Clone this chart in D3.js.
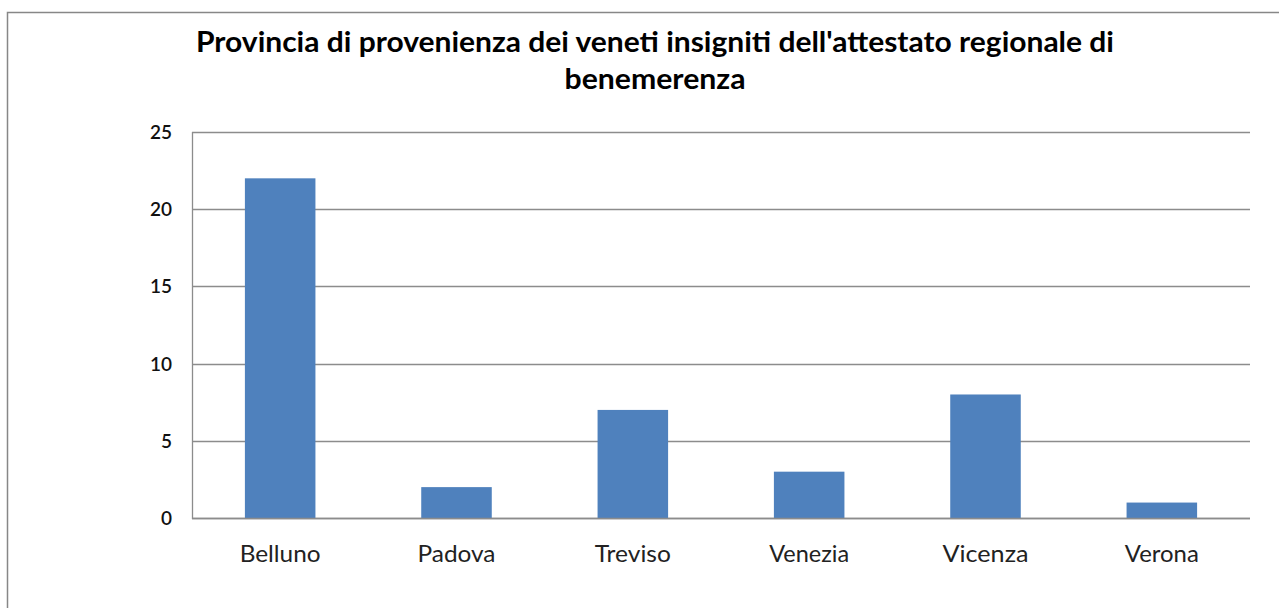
<!DOCTYPE html>
<html><head><meta charset="utf-8">
<script src="https://cdn.jsdelivr.net/npm/d3@7"></script>
<style>body{margin:0;background:#fff;overflow:hidden}</style>
</head><body>
<script>
const categories = ["Belluno","Padova","Treviso","Venezia","Vicenza","Verona"];
const values = [22, 2, 7, 3, 8, 1];
const yTicks = [0,5,10,15,20,25];
const titleLines = ["Provincia di provenienza dei veneti insigniti dell'attestato regionale di","benemerenza"];

(function(){
const W = 1279, H = 608;
const svg = d3.select("body").append("svg").attr("width", W).attr("height", H);
svg.append("rect").attr("width", W).attr("height", H).attr("fill", "#fff");
svg.append("rect").attr("x", 7.5).attr("y", 12.5).attr("width", 1300).attr("height", 620)
  .attr("fill", "none").attr("stroke", "#878787").attr("stroke-width", 1.5);

const pL = 192, pR = 1250, pT = 132, pB = 518;
const x = d3.scaleBand().domain(categories).range([pL, pR]).paddingInner(0.6).paddingOuter(0.3);
const y = d3.scaleLinear().domain([0, 25]).range([pB, pT]);

svg.append("g").selectAll("line").data(yTicks).join("line")
  .attr("x1", pL).attr("x2", pR)
  .attr("y1", d => Math.round(y(d)) + 0.5).attr("y2", d => Math.round(y(d)) + 0.5)
  .attr("stroke", "#8c8c8c").attr("stroke-width", 1.3);

svg.append("g").selectAll("rect").data(values).join("rect")
  .attr("x", (d, i) => x(categories[i]))
  .attr("width", x.bandwidth())
  .attr("y", d => y(d))
  .attr("height", d => y(0) - y(d))
  .attr("fill", "#4f81bd");

svg.append("line").attr("x1", pL + 0.5).attr("x2", pL + 0.5).attr("y1", pT).attr("y2", pB + 1)
  .attr("stroke", "#8c8c8c").attr("stroke-width", 1.3);
svg.append("line").attr("x1", pL).attr("x2", pR).attr("y1", pB + 0.5).attr("y2", pB + 0.5)
  .attr("stroke", "#8c8c8c").attr("stroke-width", 1.5);

svg.append("g").selectAll("text").data(yTicks).join("text")
  .attr("x", 172).attr("y", d => y(d) + 7)
  .attr("text-anchor", "end")
  .attr("font-family", "Lato, 'Open Sans', sans-serif").attr("font-size", 19).attr("font-weight", 600)
  .attr("fill", "#111").text(d => d);

const xLabelW = {Belluno:81, Padova:78, Treviso:76, Venezia:80, Vicenza:86, Verona:74};
svg.append("g").selectAll("text").data(categories).join("text")
  .attr("x", d => x(d) + x.bandwidth() / 2).attr("y", 562)
  .attr("text-anchor", "middle")
  .attr("font-family", "Lato, 'Open Sans', sans-serif").attr("font-size", 24)
  .attr("textLength", d => xLabelW[d]).attr("lengthAdjust", "spacingAndGlyphs")
  .attr("fill", "#222").text(d => d);

const tl = svg.append("g");
tl.append("text").attr("x", 655).attr("y", 52).attr("text-anchor", "middle")
  .attr("font-family", "Lato, 'Open Sans', sans-serif").attr("font-size", 29).attr("font-weight", 700)
  .attr("textLength", 918).attr("lengthAdjust", "spacingAndGlyphs")
  .attr("fill", "#000").text(titleLines[0]);
tl.append("text").attr("x", 655).attr("y", 89).attr("text-anchor", "middle")
  .attr("font-family", "Lato, 'Open Sans', sans-serif").attr("font-size", 29).attr("font-weight", 700)
  .attr("textLength", 181).attr("lengthAdjust", "spacingAndGlyphs")
  .attr("fill", "#000").text(titleLines[1]);
})();
</script>
</body></html>
